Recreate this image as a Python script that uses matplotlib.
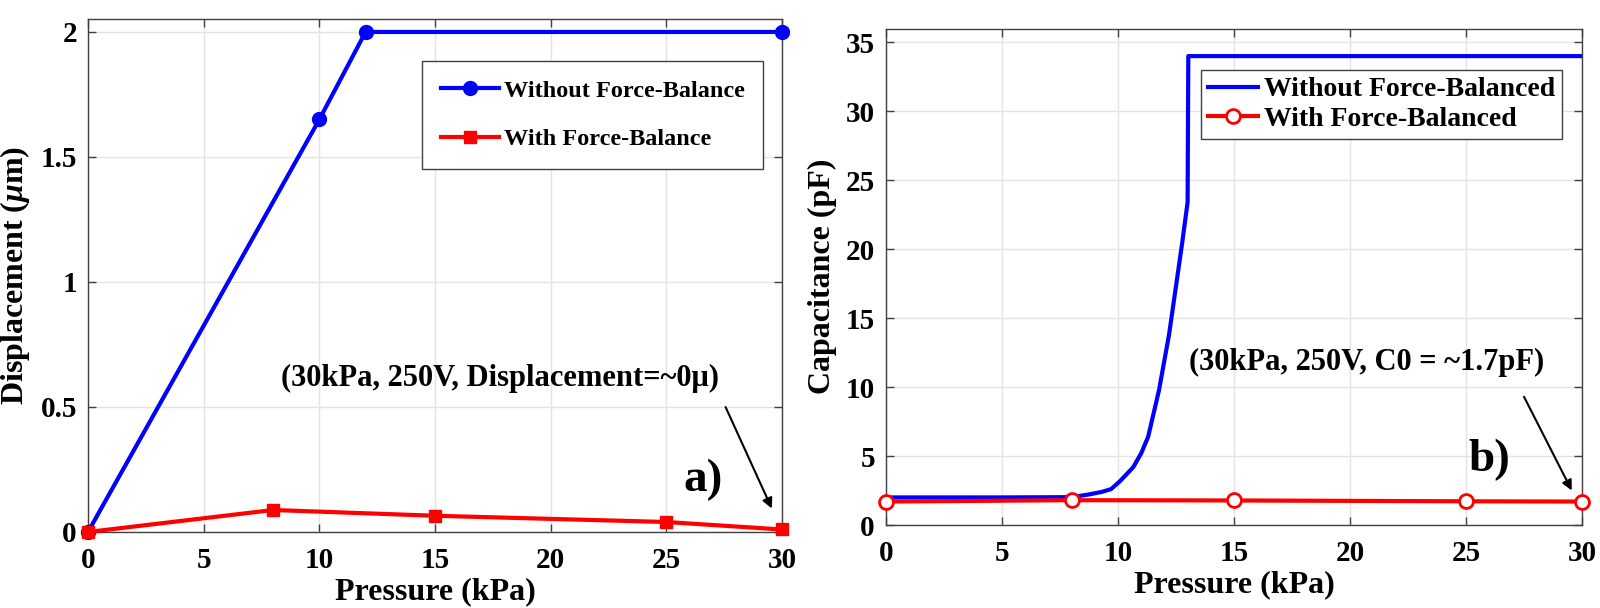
import matplotlib.pyplot as plt

plt.rcParams['font.family'] = ['Liberation Serif', 'DejaVu Serif']
plt.rcParams['font.weight'] = 'bold'
plt.rcParams['mathtext.fontset'] = 'custom'
plt.rcParams['mathtext.it'] = 'Liberation Serif:italic:bold'
plt.rcParams['mathtext.rm'] = 'Liberation Serif:bold'

# panel a) displacement
disp_x_without = [0, 10, 12, 30]
disp_y_without = [0, 1.65, 2.0, 2.0]
disp_x_with = [0, 8, 15, 25, 30]
disp_y_with = [0, 0.088, 0.065, 0.04, 0.01]

# panel b) capacitance
cap_x_without = [0, 5, 8, 8.7, 9.3, 9.7, 10.1, 10.66, 11.0, 11.3, 11.77, 12.2, 12.77, 13.0, 13.03, 30]
cap_y_without = [2.0, 2.0, 2.02, 2.2, 2.4, 2.6, 3.2, 4.2, 5.2, 6.4, 9.8, 13.8, 20.5, 23.4, 34.0, 34.0]
cap_x_with = [0, 8, 15, 25, 30]
cap_y_with = [1.7, 1.8, 1.78, 1.72, 1.7]

x_ticks = [0, 5, 10, 15, 20, 25, 30]


def style_axes(ax):
    ax.grid(True, color='#e3e3e3', linewidth=1)
    ax.set_axisbelow(True)
    ax.tick_params(direction='in', top=True, right=True, length=6,
                   labelsize=21, width=1, color='#404040', pad=8)
    ax.tick_params(axis='x', pad=11)
    for s in ax.spines.values():
        s.set_color('#404040')
        s.set_linewidth(1)
    for lab in ax.get_xticklabels() + ax.get_yticklabels():
        lab.set_fontweight('bold')
    ax.set_xlim(0, 30)
    ax.set_xticks(x_ticks)
    ax.set_xlabel('Pressure (kPa)', fontsize=23, fontweight='bold', labelpad=2)


fig = plt.figure(figsize=(16, 6.08), dpi=100)

ax1 = fig.add_axes([0.055, 0.125, 0.43375, 0.843])
ax1.plot(disp_x_without, disp_y_without, color='blue', lw=3, marker='o',
         markersize=9, markerfacecolor='blue', markeredgewidth=2,
         label='Without Force-Balance', clip_on=False, zorder=3)
ax1.plot(disp_x_with, disp_y_with, color='red', lw=3, marker='s',
         markersize=8, label='With Force-Balance', clip_on=False, zorder=4)
ax1.set_ylim(0, 2.05)
ax1.set_yticks([0, 0.5, 1, 1.5, 2])
ax1.set_yticklabels(['0', '0.5', '1', '1.5', '2'])
style_axes(ax1)
ax1.set_ylabel(r'Displacement ($\mu$m)', fontsize=23, fontweight='bold', labelpad=6)
leg1 = ax1.legend(loc='upper right', bbox_to_anchor=(0.9726, 0.918),
                  prop={'weight': 'bold', 'size': 17.5}, handlelength=2.4,
                  handletextpad=0.2, labelspacing=1.1, borderpad=0.75, borderaxespad=0,
                  fancybox=False, framealpha=1, edgecolor='#404040')
leg1.get_frame().set_linewidth(1)
ax1.annotate('', xy=(29.56, 0.094), xytext=(27.56, 0.50),
             arrowprops=dict(arrowstyle='-|>', color='black', lw=1.5, mutation_scale=15,
                             shrinkA=0, shrinkB=0))
ax1.text(17.8, 0.616, '(30kPa, 250V, Displacement=~0\u03bc)', fontsize=22,
         fontweight='bold', ha='center', va='center')
ax1.text(26.6, 0.21, 'a)', fontsize=34, fontweight='bold', ha='center', va='center')

ax2 = fig.add_axes([0.55375, 0.1365, 0.435, 0.8166])
ax2.plot(cap_x_without, cap_y_without, color='blue', lw=3,
         label='Without Force-Balanced', zorder=3)
ax2.plot(cap_x_with, cap_y_with, color='red', lw=3, marker='o', markersize=10,
         markerfacecolor='white', markeredgewidth=2, label='With Force-Balanced',
         clip_on=False, zorder=4)
ax2.set_ylim(0, 36)
ax2.set_yticks([0, 5, 10, 15, 20, 25, 30, 35])
style_axes(ax2)
ax2.set_ylabel('Capacitance (pF)', fontsize=23, fontweight='bold', labelpad=6)
leg2 = ax2.legend(loc='upper right', bbox_to_anchor=(0.971, 0.9164),
                  prop={'weight': 'bold', 'size': 20}, handlelength=1.8,
                  handletextpad=0.2, labelspacing=0.15, borderpad=0.25, borderaxespad=0,
                  fancybox=False, framealpha=1, edgecolor='#404040')
leg2.get_frame().set_linewidth(1)
ax2.annotate('', xy=(29.56, 2.5), xytext=(27.5, 9.3),
             arrowprops=dict(arrowstyle='-|>', color='black', lw=1.5, mutation_scale=15,
                             shrinkA=0, shrinkB=0))
ax2.text(20.7, 11.8, '(30kPa, 250V, C0 = ~1.7pF)', fontsize=22, fontweight='bold',
         ha='center', va='center')
ax2.text(26.0, 4.7, 'b)', fontsize=34, fontweight='bold', ha='center', va='center')

fig.savefig('out.png', dpi=100)
